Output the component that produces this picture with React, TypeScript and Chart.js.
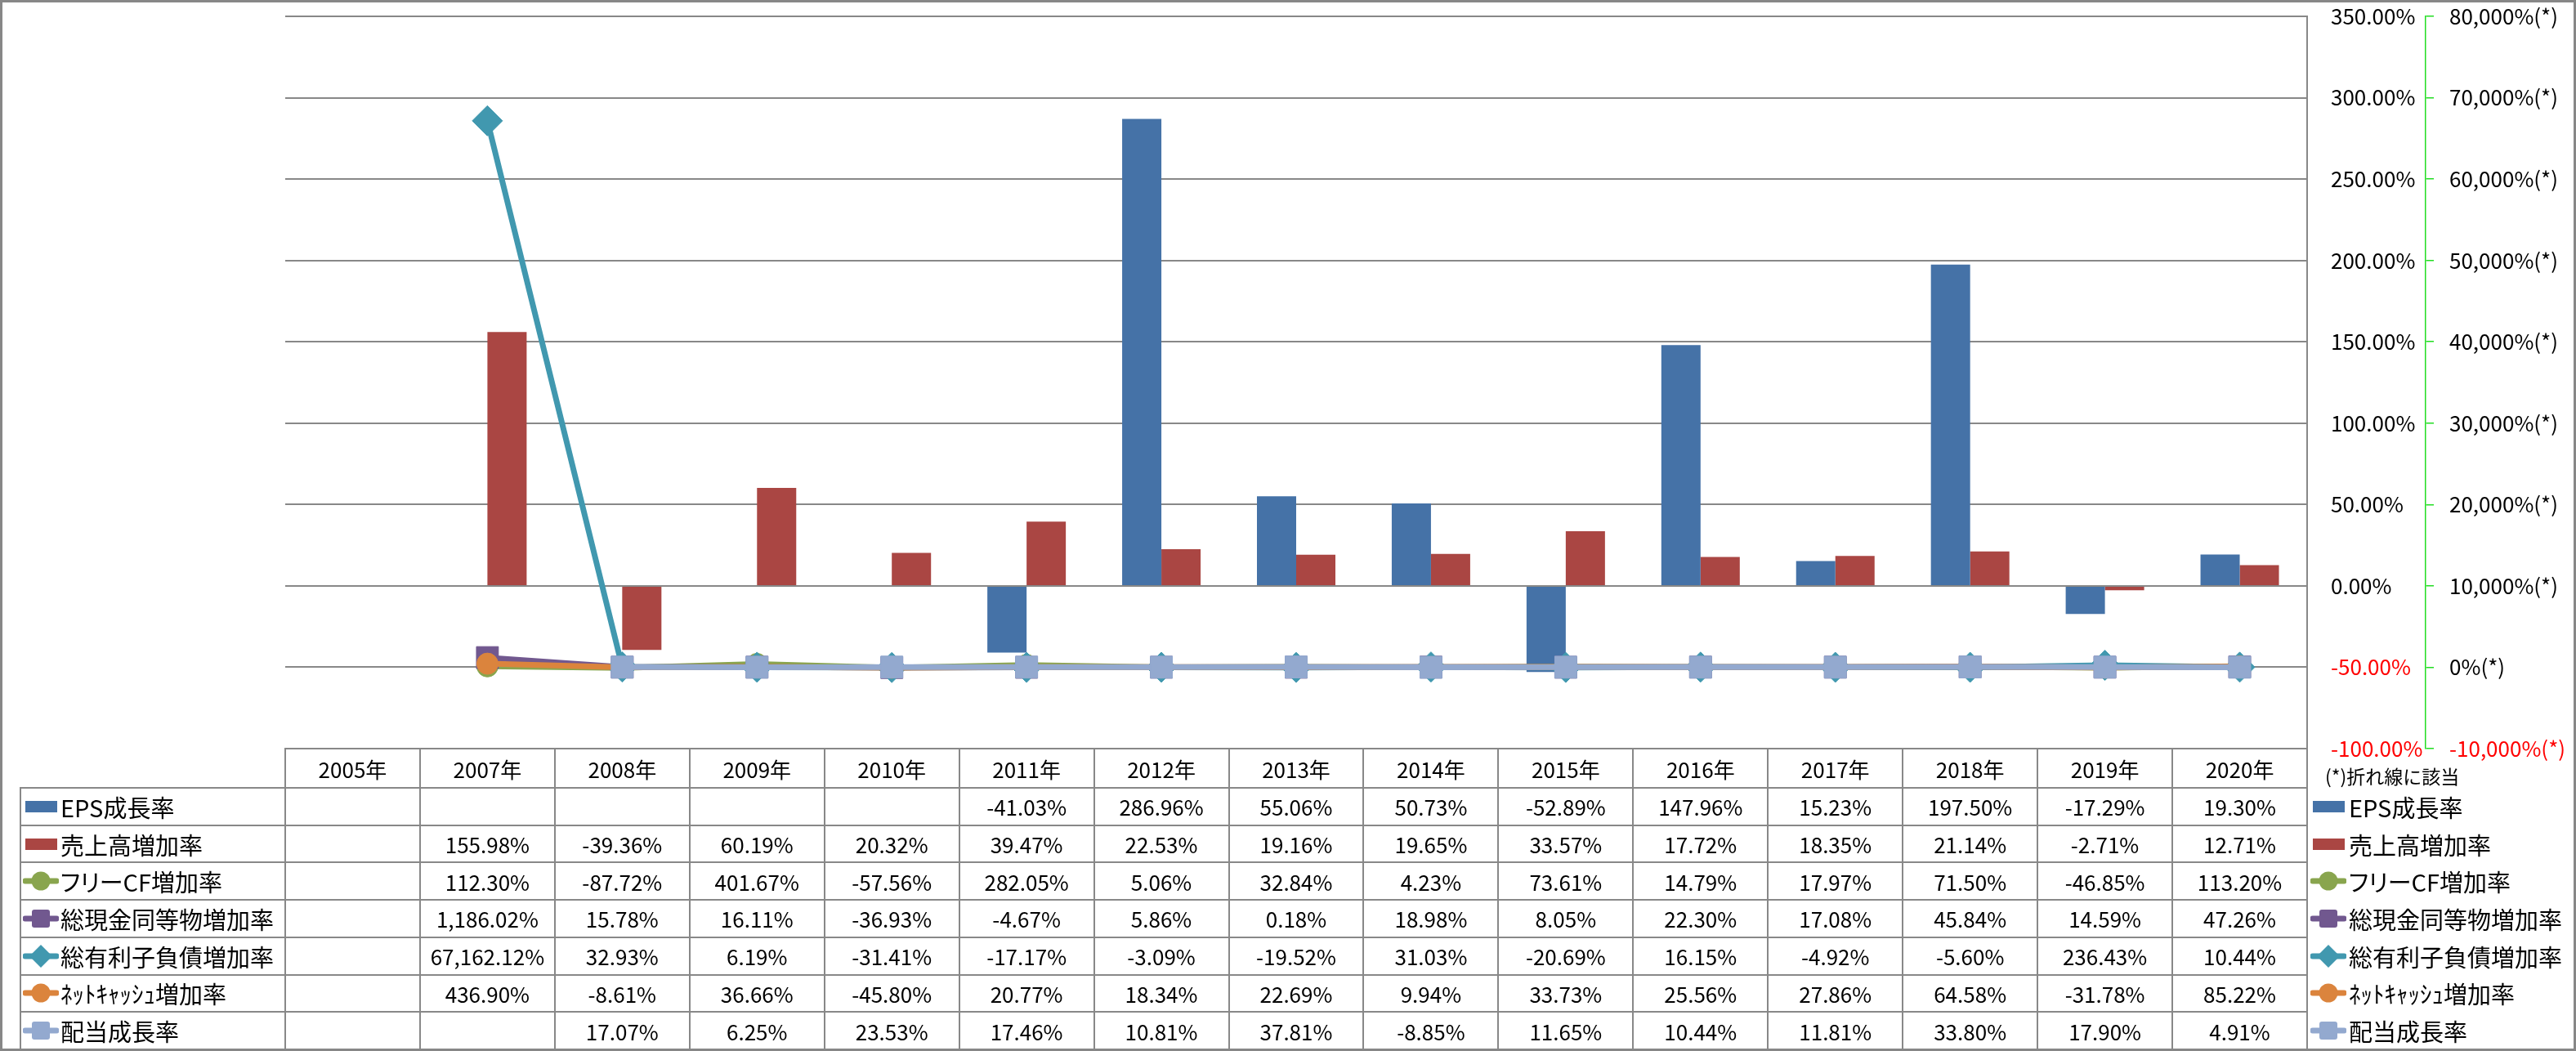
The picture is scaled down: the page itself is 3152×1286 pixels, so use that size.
import React, { useEffect, useRef } from 'react';
import { Chart, registerables } from 'chart.js';

Chart.register(...registerables);

// ---------------- data ----------------
const years = ['2005年', '2007年', '2008年', '2009年', '2010年', '2011年', '2012年', '2013年', '2014年', '2015年', '2016年', '2017年', '2018年', '2019年', '2020年'];
const epsGrowth = [null, null, null, null, null, -41.03, 286.96, 55.06, 50.73, -52.89, 147.96, 15.23, 197.5, -17.29, 19.3];
const salesGrowth = [null, 155.98, -39.36, 60.19, 20.32, 39.47, 22.53, 19.16, 19.65, 33.57, 17.72, 18.35, 21.14, -2.71, 12.71];
const freeCfGrowth = [null, 112.3, -87.72, 401.67, -57.56, 282.05, 5.06, 32.84, 4.23, 73.61, 14.79, 17.97, 71.5, -46.85, 113.2];
const cashGrowth = [null, 1186.02, 15.78, 16.11, -36.93, -4.67, 5.86, 0.18, 18.98, 8.05, 22.3, 17.08, 45.84, 14.59, 47.26];
const debtGrowth = [null, 67162.12, 32.93, 6.19, -31.41, -17.17, -3.09, -19.52, 31.03, -20.69, 16.15, -4.92, -5.6, 236.43, 10.44];
const netCashGrowth = [null, 436.9, -8.61, 36.66, -45.8, 20.77, 18.34, 22.69, 9.94, 33.73, 25.56, 27.86, 64.58, -31.78, 85.22];
const dividendGrowth = [null, null, 17.07, 6.25, 23.53, 17.46, 10.81, 37.81, -8.85, 11.65, 10.44, 11.81, 33.8, 17.9, 4.91];

const barAxisRange = [-100, 350, 50];
const lineAxisRange = [-10000, 80000, 10000];
const lineAxisNote = '(*)折れ線に該当';

// ---------------- styles ----------------
type Series = {
  label: string;
  data: (number | null)[];
  kind: 'bar' | 'line';
  color: string;
  marker?: 'circle' | 'rect' | 'rectRot';
};

const series: Series[] = [
  { label: 'EPS成長率', data: epsGrowth, kind: 'bar', color: '#4572A7' },
  { label: '売上高増加率', data: salesGrowth, kind: 'bar', color: '#AA4643' },
  { label: 'フリーCF増加率', data: freeCfGrowth, kind: 'line', color: '#89A54E', marker: 'circle' },
  { label: '総現金同等物増加率', data: cashGrowth, kind: 'line', color: '#71588F', marker: 'rect' },
  { label: '総有利子負債増加率', data: debtGrowth, kind: 'line', color: '#4198AF', marker: 'rectRot' },
  { label: 'ﾈｯﾄｷｬｯｼｭ増加率', data: netCashGrowth, kind: 'line', color: '#DB843D', marker: 'circle' },
  { label: '配当成長率', data: dividendGrowth, kind: 'line', color: '#93A9CF', marker: 'rect' },
];

const W = 3152;
const H = 1286;
const PLOT_L = 349;
const PLOT_R = 2823;
const PLOT_T = 19;
const PLOT_B = 916;
const Y_AXIS_W = 145;
const Y1_AXIS_W = 181;
const HEADER_B = 964;
const TABLE_B = 1284;
const LABEL_L = 25;
const ROW_H = (TABLE_B - HEADER_B) / 7;
const COL_W = (PLOT_R - PLOT_L) / years.length;
const GRID = '#888888';
const FONT = '"Noto Sans CJK JP", "Noto Sans", sans-serif';

const markerRadius = { circle: 13, rect: 19, rectRot: 18.5 } as const;

const fmtPct = (v: number | null) =>
  v === null ? '' : v.toLocaleString('en-US', { minimumFractionDigits: 2, maximumFractionDigits: 2 }) + '%';

function Icon({ s }: { s: Series }) {
  if (s.kind === 'bar') {
    return (
      <svg width={44} height={30} style={{ display: 'block' }}>
        <rect x={3} y={8} width={39} height={14} fill={s.color} />
      </svg>
    );
  }
  let m: React.ReactNode = null;
  if (s.marker === 'circle') m = <circle cx={22} cy={15} r={11.5} fill={s.color} />;
  else if (s.marker === 'rect') m = <rect x={11} y={4} width={22} height={22} rx={3} fill={s.color} />;
  else m = <polygon points="22,1 36,15 22,29 8,15" fill={s.color} />;
  return (
    <svg width={44} height={30} style={{ display: 'block' }}>
      <line x1={3} y1={15} x2={41} y2={15} stroke={s.color} strokeWidth={7} strokeLinecap="round" />
      {m}
    </svg>
  );
}

export default function App() {
  const ref = useRef<HTMLCanvasElement>(null);

  useEffect(() => {
    document.body.style.margin = '0';
    document.body.style.overflow = 'hidden';
    const canvas = ref.current!;
    const datasets: any[] = series.map((s, i) => {
      if (s.kind === 'bar') {
        return {
          type: 'bar',
          label: s.label,
          data: s.data,
          backgroundColor: s.color,
          borderWidth: 0,
          yAxisID: 'y',
          order: 19 + i,
          categoryPercentage: 96 / COL_W,
          barPercentage: 1,
        };
      }
      return {
        type: 'line',
        label: s.label,
        data: s.data,
        borderColor: s.color,
        backgroundColor: s.color,
        pointBackgroundColor: s.color,
        pointBorderColor: s.color,
        pointBorderWidth: 1,
        borderWidth: 7,
        pointStyle: s.marker,
        pointRadius: markerRadius[s.marker!],
        pointHoverRadius: markerRadius[s.marker!],
        tension: 0,
        fill: false,
        spanGaps: false,
        yAxisID: 'y1',
        order: 10 - i,
      };
    });

    const fixAxis = (w: number) => (s: any) => {
      s.width = w;
      s.paddingTop = 0;
      s.paddingBottom = 0;
    };

    const chart = new Chart(canvas, {
      type: 'bar',
      data: { labels: years, datasets },
      options: {
        responsive: false,
        maintainAspectRatio: false,
        animation: false,
        devicePixelRatio: 1,
        layout: {
          padding: {
            left: PLOT_L,
            top: PLOT_T,
            right: W - PLOT_R - Y_AXIS_W - Y1_AXIS_W,
            bottom: H - PLOT_B,
          },
        },
        plugins: {
          legend: { display: false },
          tooltip: { enabled: false },
        },
        scales: {
          x: {
            display: false,
            offset: true,
            grid: { display: false },
          },
          y: {
            type: 'linear',
            position: 'right',
            weight: 0,
            min: barAxisRange[0],
            max: barAxisRange[1],
            afterFit: fixAxis(Y_AXIS_W),
            ticks: {
              stepSize: barAxisRange[2],
              padding: 29,
              crossAlign: 'near',
              font: { family: FONT, size: 26 },
              color: (c: any) => (c.tick && c.tick.value < 0 ? '#FF0000' : '#000000'),
              callback: (v: any) => Number(v).toFixed(2) + '%',
            },
            grid: { color: GRID, lineWidth: 2, drawTicks: false },
            border: { display: true, color: GRID, width: 2 },
          },
          y1: {
            type: 'linear',
            position: 'right',
            weight: 1,
            min: lineAxisRange[0],
            max: lineAxisRange[1],
            afterFit: fixAxis(Y1_AXIS_W),
            ticks: {
              stepSize: lineAxisRange[2],
              padding: 19,
              crossAlign: 'near',
              font: { family: FONT, size: 26 },
              color: (c: any) => (c.tick && c.tick.value < 0 ? '#FF0000' : '#000000'),
              callback: (v: any) => Number(v).toLocaleString('en-US') + '%(*)',
            },
            grid: { drawOnChartArea: false, drawTicks: true, tickLength: 10, color: '#22DD22', lineWidth: 1.5 },
            border: { display: true, color: '#22DD22', width: 1.5, dash: [6, 4] },
          },
        },
      } as any,
    });
    return () => chart.destroy();
  }, []);

  const lines: React.ReactNode[] = [];
  lines.push(<div key="ht" style={{ position: 'absolute', left: PLOT_L, top: PLOT_B - 1, width: PLOT_R - PLOT_L + 1, height: 2, background: GRID }} />);
  for (let r = 0; r <= 7; r++) {
    const y = HEADER_B + r * ROW_H;
    lines.push(<div key={'h' + r} style={{ position: 'absolute', left: LABEL_L, top: y - 1, width: PLOT_R - LABEL_L + 1, height: 2, background: GRID }} />);
  }
  lines.push(<div key="vl" style={{ position: 'absolute', left: LABEL_L - 1, top: HEADER_B - 1, width: 2, height: TABLE_B - HEADER_B + 2, background: GRID }} />);
  for (let c = 0; c <= years.length; c++) {
    const x = PLOT_L + c * COL_W;
    lines.push(<div key={'v' + c} style={{ position: 'absolute', left: x - 1, top: PLOT_B - 1, width: 2, height: H - PLOT_B + 1, background: GRID }} />);
  }

  const cellStyle = (left: number, top: number, width: number, height: number): React.CSSProperties => ({
    position: 'absolute',
    left,
    top,
    width,
    height,
    display: 'flex',
    alignItems: 'center',
    justifyContent: 'center',
    fontFamily: FONT,
    fontSize: 26,
    color: '#000',
    whiteSpace: 'nowrap',
  });

  const labelStyle = (left: number, top: number): React.CSSProperties => ({
    position: 'absolute',
    left,
    top,
    height: ROW_H,
    display: 'flex',
    alignItems: 'center',
    fontFamily: FONT,
    fontSize: 29,
    fontFeatureSettings: '"palt"',
    color: '#000',
    whiteSpace: 'nowrap',
  });

  return (
    <div style={{ position: 'relative', width: W, height: H, background: '#fff', overflow: 'hidden' }}>
      <canvas ref={ref} width={W} height={H} style={{ position: 'absolute', left: 0, top: 0, width: W, height: H }} />
      {lines}
      {years.map((y, c) => (
        <div key={'yh' + c} style={cellStyle(PLOT_L + c * COL_W, PLOT_B, COL_W, HEADER_B - PLOT_B)}>
          {y}
        </div>
      ))}
      {series.map((s, r) => (
        <React.Fragment key={'row' + r}>
          <div style={labelStyle(28, HEADER_B + r * ROW_H)}>
            <Icon s={s} />
            <span style={{ marginLeft: 2 }}>{s.label}</span>
          </div>
          {s.data.map((v, c) => (
            <div key={'c' + c} style={cellStyle(PLOT_L + c * COL_W, HEADER_B + r * ROW_H, COL_W, ROW_H)}>
              {fmtPct(v)}
            </div>
          ))}
          <div style={labelStyle(2827, HEADER_B + r * ROW_H)}>
            <Icon s={s} />
            <span style={{ marginLeft: 3 }}>{s.label}</span>
          </div>
        </React.Fragment>
      ))}
      <div
        style={{
          position: 'absolute',
          left: 2845,
          top: 932,
          fontFamily: FONT,
          fontSize: 23,
          lineHeight: '34px',
          color: '#000',
          whiteSpace: 'nowrap',
        }}
      >
        {lineAxisNote}
      </div>
      <div
        style={{
          position: 'absolute',
          left: 0,
          top: 0,
          width: W,
          height: H,
          border: '3px solid #878787',
          boxSizing: 'border-box',
          pointerEvents: 'none',
        }}
      />
    </div>
  );
}
